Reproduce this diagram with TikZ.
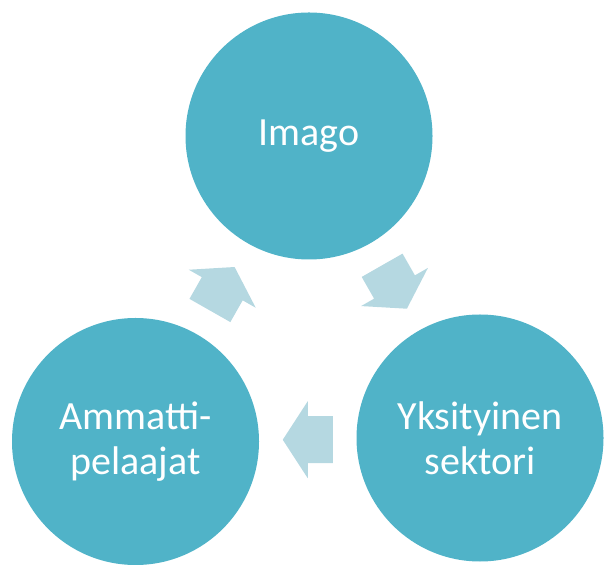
\documentclass[tikz,border=0pt]{standalone}
\usepackage{fontspec}
\setmainfont{Carlito}
\usetikzlibrary{calc,positioning}
\definecolor{ringteal}{RGB}{80,179,200}
\definecolor{arrowblue}{RGB}{181,216,225}

\begin{document}
\begin{tikzpicture}[x=1pt, y=1pt, circ/.style={circle, fill=ringteal, minimum size=247pt, inner sep=0pt, align=center, text=white, font=\fontsize{40}{45}\selectfont}]
% Define the block arrow that sits between two circles
\tikzset{cyclearrow/.pic={\fill[arrowblue] (25,0) -- (0,38.5) -- (0,23.5) -- (-25,23.5) -- (-25,-23.5) -- (0,-23.5) -- (0,-38.5) -- cycle;}}

\clip (0,0) rectangle (604,564);

% Circles
\node [circ] (imago) at (309,428) {Imago};
\node [circ] (pelaajat) at ($(imago)+(-173.5,-305.5)$) {Ammatti-\\pelaajat};
\node [circ] (sektori) at ($(imago)+(171,-302)$) {Yksityinen\\sektori};

% Arrows between the circles
\pic [rotate=60.4] at ($(pelaajat)!0.5!(imago)$) {cyclearrow};
\pic [rotate=-60.3] at ($(imago)!0.5!(sektori)$) {cyclearrow};
\pic [rotate=180] at ($(sektori)!0.5!(pelaajat)$) {cyclearrow};
\end{tikzpicture}
\end{document}
